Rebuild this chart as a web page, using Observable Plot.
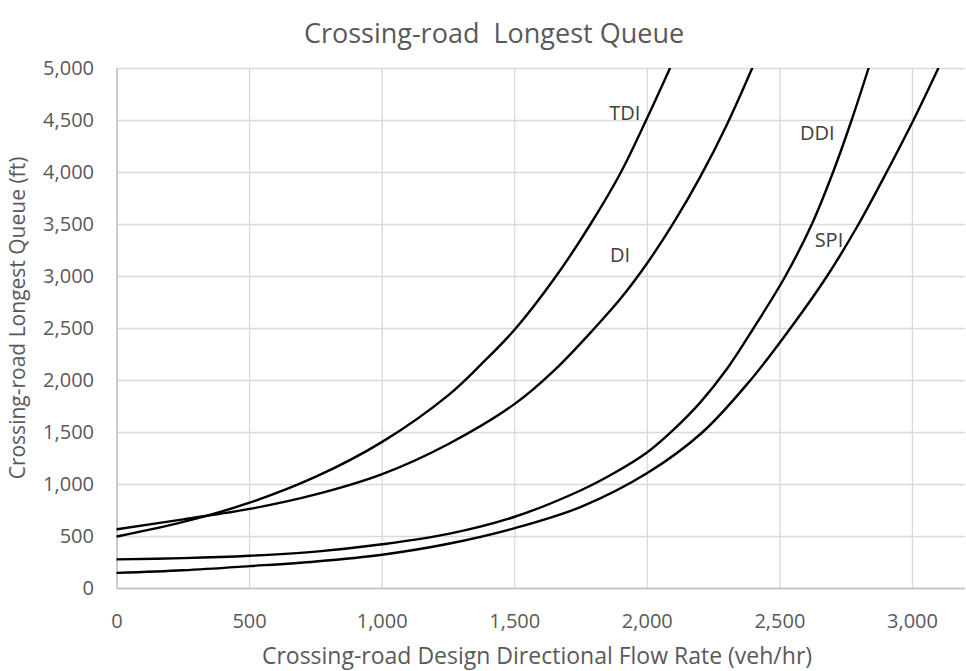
<!DOCTYPE html>
<html>
<head>
<meta charset="utf-8">
<script src="https://cdn.jsdelivr.net/npm/d3@7"></script>
<script src="https://cdn.jsdelivr.net/npm/@observablehq/plot@0.6"></script>
<style>
  html, body { margin: 0; padding: 0; background: #fff; }
  svg { display: block; }
</style>
</head>
<body>
<div id="chart"></div>
<script>
// ---- Data ----
const titleText = "Crossing-road  Longest Queue";
const xTitle = "Crossing-road Design Directional Flow Rate (veh/hr)";
const yTitle = "Crossing-road Longest Queue (ft)";

const xTicks = [0, 500, 1000, 1500, 2000, 2500, 3000];
const yTicks = [0, 500, 1000, 1500, 2000, 2500, 3000, 3500, 4000, 4500, 5000];

const seriesNames = ["TDI", "DI", "DDI", "SPI"];

const tdiFlow  = [0, 250, 500, 750, 1000, 1250, 1375, 1500, 1655, 1785, 1900, 1995, 2085];
const tdiQueue = [500, 640, 825, 1075, 1410, 1860, 2160, 2490, 3000, 3500, 4000, 4500, 5000];

const diFlow  = [0, 250, 500, 750, 1000, 1250, 1500, 1650, 1800, 1900, 2000, 2100, 2200, 2300, 2395];
const diQueue = [570, 665, 765, 905, 1100, 1390, 1775, 2100, 2500, 2790, 3130, 3520, 3960, 4460, 5000];

const ddiFlow  = [0, 250, 500, 750, 1000, 1250, 1500, 1750, 1875, 2000, 2100, 2200, 2300, 2400, 2520, 2620, 2700, 2770, 2834];
const ddiQueue = [280, 292, 315, 355, 425, 525, 690, 945, 1110, 1310, 1530, 1790, 2110, 2500, 3000, 3500, 4000, 4500, 5000];

const spiFlow  = [0, 250, 500, 750, 1000, 1250, 1500, 1750, 2000, 2207, 2388, 2539, 2677, 2796, 2902, 3003, 3097];
const spiQueue = [150, 175, 215, 260, 325, 430, 580, 785, 1110, 1500, 2000, 2500, 3000, 3500, 4000, 4500, 5000];

const labelFlow  = [1915, 1897, 2641, 2685];
const labelQueue = [4570, 3200, 4375, 3346];

// ---- Build tables ----
const flows = [tdiFlow, diFlow, ddiFlow, spiFlow];
const queues = [tdiQueue, diQueue, ddiQueue, spiQueue];
const rows = [];
seriesNames.forEach((name, i) => {
  flows[i].forEach((f, j) => rows.push({series: name, flow: f, queue: queues[i][j]}));
});
const labels = seriesNames.map((name, i) => ({name, flow: labelFlow[i], queue: labelQueue[i]}));

const FONT = "'Open Sans', sans-serif";
const W = 966, H = 671;
const mL = 116.5, mR = 1, mT = 68, mB = 83;

const chart = Plot.plot({
  width: W,
  height: H,
  marginLeft: mL,
  marginRight: mR,
  marginTop: mT,
  marginBottom: mB,
  style: {fontFamily: FONT, background: "#fff", overflow: "visible"},
  x: {domain: [0, 3200], label: null},
  y: {domain: [0, 5000], label: null},
  marks: [
    Plot.gridX(xTicks, {stroke: "#d9d9d9", strokeOpacity: 1, strokeWidth: 1.3}),
    Plot.gridY(yTicks, {stroke: "#d9d9d9", strokeOpacity: 1, strokeWidth: 1.3}),
    Plot.ruleX([0], {stroke: "#bfbfbf", strokeWidth: 1.3}),
    Plot.ruleY([0], {stroke: "#bfbfbf", strokeWidth: 1.3}),
    Plot.line(rows, {x: "flow", y: "queue", z: "series", stroke: "#000", strokeWidth: 2.4, curve: "catmull-rom", clip: true}),
    Plot.text(labels, {x: "flow", y: "queue", text: "name", fill: "#404040", fontSize: 20}),
    Plot.axisX(xTicks, {tickSize: 0, tickPadding: 25, fontSize: 20, fill: "#595959", tickFormat: d3.format(","), label: null}),
    Plot.axisY(yTicks, {tickSize: 0, tickPadding: 23, fontSize: 20, fill: "#595959", tickFormat: d3.format(","), label: null})
  ]
});

const svg = d3.select(chart);
svg.append("text")
  .attr("x", 494).attr("y", 43)
  .attr("text-anchor", "middle")
  .attr("font-family", FONT).attr("font-size", 27)
  .attr("fill", "#595959")
  .style("white-space", "pre")
  .text(titleText);
svg.append("text")
  .attr("x", 537).attr("y", 664)
  .attr("text-anchor", "middle")
  .attr("font-family", FONT).attr("font-size", 23)
  .attr("fill", "#595959")
  .text(xTitle);
svg.append("text")
  .attr("transform", `translate(25,318) rotate(-90)`)
  .attr("text-anchor", "middle")
  .attr("font-family", FONT).attr("font-size", 21)
  .attr("fill", "#595959")
  .text(yTitle);

document.getElementById("chart").appendChild(chart);
</script>
</body>
</html>
